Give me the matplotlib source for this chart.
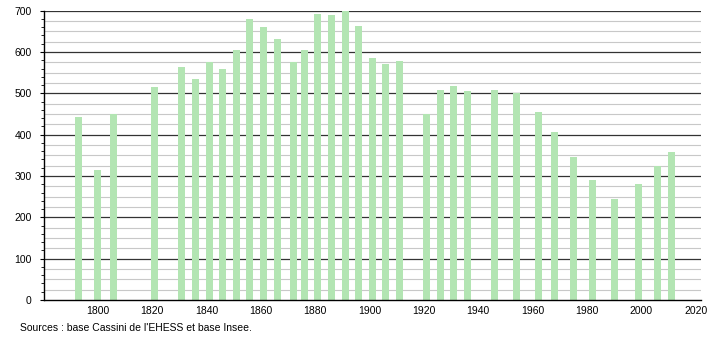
import matplotlib.pyplot as plt
import numpy as np

plt.rcParams['font.family'] = ['Liberation Sans', 'DejaVu Sans']

years = [1793, 1800, 1806, 1821, 1831, 1836, 1841, 1846, 1851, 1856, 1861,
         1866, 1872, 1876, 1881, 1886, 1891, 1896, 1901, 1906, 1911, 1921,
         1926, 1931, 1936, 1946, 1954, 1962, 1968, 1975, 1982, 1990, 1999,
         2006, 2011]
population = [443, 315, 449, 515, 564, 535, 575, 559, 605, 681, 660,
              631, 575, 605, 692, 690, 702, 663, 585, 572, 578, 449,
              508, 518, 506, 508, 501, 455, 406, 346, 290, 244, 281,
              324, 358]
x_ticks = [1800, 1820, 1840, 1860, 1880, 1900, 1920, 1940, 1960, 1980, 2000, 2020]
source = "Sources : base Cassini de l'EHESS et base Insee."

fig = plt.figure(figsize=(7.1, 3.4), dpi=100)
ax = fig.add_axes([0.0624, 0.1176, 0.9245, 0.851])

# grid: dark every 100, light every 25
for v in np.arange(25, 701, 25):
    if v % 100 == 0:
        ax.axhline(v, color='#333333', lw=0.9, zorder=1)
    else:
        ax.axhline(v, color='#c8c8c8', lw=0.8, zorder=1)

ax.bar(years, population, width=2.6, color='#b3e5b3', zorder=2)

ax.set_xlim(1780.4, 2021.8)
ax.set_ylim(0, 700)
ax.set_xticks(x_ticks)
ax.set_yticks(np.arange(0, 701, 100))
ax.set_yticks(np.arange(0, 701, 20), minor=True)
ax.tick_params(axis='x', length=0, labelsize=7.5, pad=4)
ax.tick_params(axis='y', which='major', length=3, labelsize=7.5, pad=6)
ax.tick_params(axis='y', which='minor', length=2)

for s in ['top', 'right']:
    ax.spines[s].set_visible(False)
ax.spines['left'].set_linewidth(1.0)
ax.spines['bottom'].set_linewidth(1.0)

fig.text(0.028, 0.026, source, fontsize=7.5)

fig.savefig('out.png', dpi=100)
